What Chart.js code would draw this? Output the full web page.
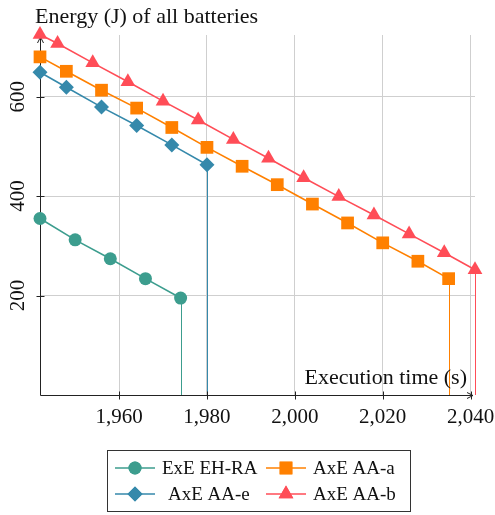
<!DOCTYPE html>
<html>
<head>
<meta charset="utf-8">
<script src="https://cdn.jsdelivr.net/npm/chart.js@4.4.1/dist/chart.umd.min.js"></script>
<style>
  html, body { margin: 0; padding: 0; background: #fff; }
  #wrap { width: 495px; height: 515px; position: relative; }
</style>
</head>
<body>
<div id="wrap"><canvas id="chart" width="495" height="515"></canvas></div>
<script>
// Series
const ehraTime   = [1942, 1950, 1958, 1966, 1974];
const ehraEnergy = [355, 312, 274, 234, 195];

const aaeTime   = [1942, 1948, 1956, 1964, 1972, 1980];
const aaeEnergy = [649, 619, 579, 542, 503, 463];

const aaaTime   = [1942, 1948, 1956, 1964, 1972, 1980, 1988, 1996, 2004, 2012, 2020, 2028, 2035];
const aaaEnergy = [680, 651, 613, 577, 538, 498, 460, 423, 384, 346, 306, 269, 234];

const aabTime   = [1942, 1946, 1954, 1962, 1970, 1978, 1986, 1994, 2002, 2010, 2018, 2026, 2034, 2041];
const aabEnergy = [725, 707, 668, 630, 591, 553, 514, 476, 437, 399, 362, 324, 286, 252];

const xTicks = [1960, 1980, 2000, 2020, 2040];
const yTicks = [200, 400, 600];

const SERIF = '"Liberation Serif", "DejaVu Serif", serif';

function pts(xs, ys) {
    return xs.map((v, i) => ({ x: v, y: ys[i] }));
}

function series(label, xs, ys, color, style, radius) {
    return {
        label: label,
        data: pts(xs, ys),
        borderColor: color,
        backgroundColor: color,
        borderWidth: 1.6,
        pointStyle: style,
        pointRadius: radius,
        pointHoverRadius: radius,
        pointBorderWidth: 0,
        pointBackgroundColor: color,
        clip: false,
        tension: 0
    };
}

const datasets = [
    series('ExE EH-RA', ehraTime, ehraEnergy, '#3c9d8e', 'circle', 6.5),
    series('AxE AA-e', aaeTime, aaeEnergy, '#3589ab', 'rectRot', 7.5),
    series('AxE AA-a', aaaTime, aaaEnergy, '#ff8000', 'rect', 9),
    series('AxE AA-b', aabTime, aabEnergy, '#ff4d57', 'triangle', 8.5)
];

// Drop lines, axis arrows, tick labels, axis titles and legend box
const decor = {
    id: 'decor',
    beforeDatasetsDraw(chart) {
        const { ctx, chartArea: a, scales: { x, y } } = chart;
        ctx.save();
        // drop lines from the last point of each series
        chart.data.datasets.forEach(ds => {
            const last = ds.data[ds.data.length - 1];
            const px = Math.round(x.getPixelForValue(last.x)) + 0.5;
            ctx.strokeStyle = ds.borderColor;
            ctx.lineWidth = 1;
            ctx.beginPath();
            ctx.moveTo(px, y.getPixelForValue(last.y));
            ctx.lineTo(px, y.getPixelForValue(0));
            ctx.stroke();
        });
        // axes with arrows
        const x0 = Math.round(a.left) + 0.5, y0 = Math.round(a.bottom) + 0.5;
        ctx.strokeStyle = '#222';
        ctx.lineWidth = 1;
        ctx.beginPath();
        ctx.moveTo(x0, y0);
        ctx.lineTo(x0, a.top + 3);
        ctx.moveTo(x0, y0);
        ctx.lineTo(a.right - 2, y0);
        ctx.stroke();
        ctx.beginPath();
        ctx.moveTo(x0, a.top + 2);
        ctx.lineTo(x0 - 3, a.top + 8);
        ctx.moveTo(x0, a.top + 2);
        ctx.lineTo(x0 + 3, a.top + 8);
        ctx.moveTo(a.right - 2, y0);
        ctx.lineTo(a.right - 8, y0 - 3);
        ctx.moveTo(a.right - 2, y0);
        ctx.lineTo(a.right - 8, y0 + 3);
        ctx.stroke();
        // short tick marks
        yTicks.forEach(t => {
            const py = Math.round(y.getPixelForValue(t)) + 0.5;
            ctx.beginPath();
            ctx.moveTo(x0 - 4, py);
            ctx.lineTo(x0 + 4, py);
            ctx.stroke();
        });
        xTicks.forEach(t => {
            const px = Math.round(x.getPixelForValue(t)) + 0.5;
            ctx.beginPath();
            ctx.moveTo(px, y0 - 4);
            ctx.lineTo(px, y0 + 4);
            ctx.stroke();
        });
        ctx.restore();
    },
    afterDraw(chart) {
        const { ctx, scales: { x, y } } = chart;
        ctx.save();
        ctx.fillStyle = '#111';
        ctx.font = '21px ' + SERIF;
        ctx.textAlign = 'center';
        ctx.textBaseline = 'middle';
        // rotated y tick labels
        yTicks.forEach(t => {
            ctx.save();
            ctx.translate(18, y.getPixelForValue(t));
            ctx.rotate(-Math.PI / 2);
            ctx.fillText(String(t), 0, 0);
            ctx.restore();
        });
        // x tick labels
        xTicks.forEach(t => {
            ctx.fillText(t.toLocaleString('en-US'), x.getPixelForValue(t), 417);
        });
        // axis titles
        ctx.font = '22px ' + SERIF;
        ctx.textBaseline = 'alphabetic';
        ctx.textAlign = 'left';
        ctx.fillText('Energy (J) of all batteries', 35, 23);
        ctx.textAlign = 'right';
        ctx.fillText('Execution time (s)', 467, 384);

        // legend
        ctx.strokeStyle = '#333';
        ctx.lineWidth = 1;
        ctx.strokeRect(107.5, 450.5, 303, 61);
        const cols = [115, 266];
        const rows = [468, 494];
        const textX = [[162, 313], [168, 313]];
        const order = [[0, 2], [1, 3]];
        ctx.font = '19px ' + SERIF;
        ctx.textAlign = 'left';
        ctx.textBaseline = 'middle';
        order.forEach((row, r) => {
            row.forEach((di, c) => {
                const ds = chart.data.datasets[di];
                const ly = rows[r];
                ctx.strokeStyle = ds.borderColor;
                ctx.lineWidth = 1.6;
                ctx.beginPath();
                ctx.moveTo(cols[c], ly);
                ctx.lineTo(cols[c] + 40, ly);
                ctx.stroke();
                ctx.fillStyle = ds.borderColor;
                Chart.helpers.drawPoint(ctx, {
                    pointStyle: ds.pointStyle,
                    radius: ds.pointRadius,
                    borderWidth: 0,
                    rotation: 0
                }, cols[c] + 20, ly);
                ctx.fill();
                ctx.fillStyle = '#111';
                ctx.fillText(ds.label, textX[r][c], ly + 1);
            });
        });
        ctx.restore();
    }
};

new Chart(document.getElementById('chart'), {
    type: 'line',
    data: { datasets: datasets },
    options: {
        responsive: false,
        animation: false,
        events: [],
        layout: { padding: { left: 0, right: 20, top: 35, bottom: 80 } },
        plugins: { legend: { display: false }, tooltip: { enabled: false } },
        scales: {
            x: {
                type: 'linear',
                min: 1942,
                max: 2041,
                afterBuildTicks: s => { s.ticks = xTicks.map(v => ({ value: v })); },
                afterFit: s => { s.height = 40; },
                grid: { color: '#cfcfcf', lineWidth: 1, drawTicks: false },
                border: { display: false },
                ticks: { display: false }
            },
            y: {
                type: 'linear',
                min: 0,
                max: 724,
                afterBuildTicks: s => { s.ticks = yTicks.map(v => ({ value: v })); },
                afterFit: s => { s.width = 40; },
                grid: { color: '#cfcfcf', lineWidth: 1, drawTicks: false },
                border: { display: false },
                ticks: { display: false }
            }
        }
    },
    plugins: [decor]
});
</script>
</body>
</html>
